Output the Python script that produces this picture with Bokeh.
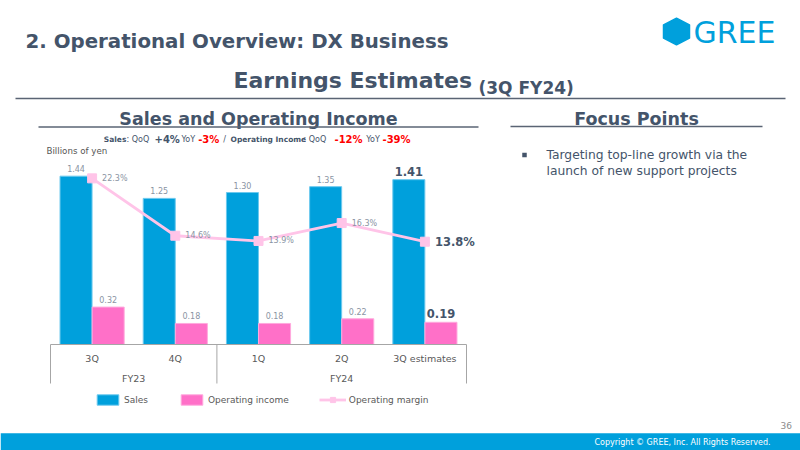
import numpy as np
from bokeh.plotting import figure
from bokeh.models import Range1d, ColumnDataSource, Legend, LegendItem
from bokeh.embed import file_html
from bokeh.resources import INLINE
from bokeh.core.properties import value

# ---------------- data ----------------
periods = ["3Q", "4Q", "1Q", "2Q", "3Q estimates"]
fiscal_years = ["FY23", "FY23", "FY24", "FY24", "FY24"]
sales = [1.44, 1.25, 1.30, 1.35, 1.41]                 # billions of yen
operating_income = [0.32, 0.18, 0.18, 0.22, 0.19]      # billions of yen
operating_margin = [22.3, 14.6, 13.9, 16.3, 13.8]      # %
estimate_flags = [False, False, False, False, True]
series_names = ["Sales", "Operating income", "Operating margin"]

# ---------------- style ----------------
W, H = 800, 450
DARK = "#44546A"
GRAY = "#8A94A3"
BLUE = "#00A0DC"
BLUE_EDGE = "#6CC9EE"
PINK = "#FF70C8"
PINK_EDGE = "#FFA9DD"
LINE_PINK = "#FFC4E8"
RED = "#FF0000"
AXIS_GRAY = "#A6A6A6"
F = value("DejaVu Sans")

# chart placement (pixels on the slide)
CL, CR = 50, 466          # plot left / right
BASE = 344                # zero line
PX_PER_UNIT = 116.9       # px per billion yen
PX_PER_PCT = 7.45         # px per margin percent
n = len(periods)
STEP = (CR - CL) / n
BAR_W = 0.385
DODGE = 0.193

p = figure(width=W, height=H, x_range=Range1d(0, W), y_range=Range1d(H, 0),
           output_backend="svg", toolbar_location=None, min_border=0,
           x_axis_location=None, y_axis_location=None, outline_line_color=None,
           background_fill_color="white", border_fill_color="white")
p.grid.visible = False
p.extra_x_ranges = {"cat": Range1d(-CL / STEP, (W - CL) / STEP)}
p.extra_y_ranges = {
    "val": Range1d(-(H - BASE) / PX_PER_UNIT, BASE / PX_PER_UNIT),
    "pct": Range1d(-(H - BASE) / PX_PER_PCT, BASE / PX_PER_PCT),
}

centers = np.arange(n) + 0.5
src = ColumnDataSource(dict(
    center=centers,
    xs=centers - DODGE,
    xo=centers + DODGE,
    sales=sales,
    oi=operating_income,
    margin=operating_margin,
    sales_lbl=[f"{v:.2f}" for v in sales],
    oi_lbl=[f"{v:.2f}" for v in operating_income],
    m_lbl=[f"{v:.1f}%" for v in operating_margin],
    period=periods,
))
act = [i for i in range(n) if not estimate_flags[i]]
est = [i for i in range(n) if estimate_flags[i]]

def sub(idx):
    d = {k: [v[i] for i in idx] for k, v in src.data.items()}
    return ColumnDataSource(d)

src_act, src_est = sub(act), sub(est)

# ---------------- bars ----------------
r_sales = p.vbar(x="xs", top="sales", bottom=0, width=BAR_W, source=src,
                 x_range_name="cat", y_range_name="val",
                 fill_color=BLUE, line_color=BLUE_EDGE, line_width=1)
r_oi = p.vbar(x="xo", top="oi", bottom=0, width=BAR_W, source=src,
              x_range_name="cat", y_range_name="val",
              fill_color=PINK, line_color=PINK_EDGE, line_width=1)

# ---------------- margin line ----------------
r_line = p.line(x="center", y="margin", source=src, x_range_name="cat",
                y_range_name="pct", line_color=LINE_PINK, line_width=2.8)
r_mark = p.scatter(x="center", y="margin", source=src, x_range_name="cat",
                   y_range_name="pct", marker="square", size=9,
                   fill_color=LINE_PINK, line_color=LINE_PINK)

# ---------------- data labels ----------------
for s, fs, col, style, off in [(src_act, "8px", GRAY, "normal", -4),
                               (src_est, "11.5px", DARK, "bold", -4)]:
    p.text(x="xs", y="sales", text="sales_lbl", source=s, x_range_name="cat",
           y_range_name="val", text_align="center", text_baseline="bottom",
           y_offset=off, text_font=F, text_font_size=fs, text_color=col,
           text_font_style=style)
    p.text(x="xo", y="oi", text="oi_lbl", source=s, x_range_name="cat",
           y_range_name="val", text_align="center", text_baseline="bottom",
           y_offset=off, text_font=F, text_font_size=fs, text_color=col,
           text_font_style=style)
    p.text(x="center", y="margin", text="m_lbl", source=s, x_range_name="cat",
           y_range_name="pct", text_align="left", text_baseline="middle",
           x_offset=10, text_font=F, text_font_size=fs, text_color=col,
           text_font_style=style)

# ---------------- category axis (table style) ----------------
AX_BOTTOM = -(383 - BASE) / PX_PER_UNIT
bounds = [0]
groups = []
for i in range(1, n + 1):
    if i == n or fiscal_years[i] != fiscal_years[i - 1]:
        groups.append((fiscal_years[i - 1], (bounds[-1] + i) / 2))
        bounds.append(i)
p.segment(x0=[0], x1=[n], y0=[0], y1=[0], x_range_name="cat", y_range_name="val",
          line_color=AXIS_GRAY, line_width=1)
p.segment(x0=bounds, x1=bounds, y0=[0] * len(bounds), y1=[AX_BOTTOM] * len(bounds),
          x_range_name="cat", y_range_name="val", line_color=AXIS_GRAY, line_width=1)
p.text(x="center", y=358, text="period", source=src, x_range_name="cat",
       text_align="center", text_baseline="middle", text_font=F,
       text_font_size="9.5px", text_color="#595959")
p.text(x=[g[1] for g in groups], y=[377.5] * len(groups), text=[g[0] for g in groups],
       x_range_name="cat", text_align="center", text_baseline="middle", text_font=F,
       text_font_size="9.5px", text_color="#595959")

# ---------------- legend ----------------
legend = Legend(items=[LegendItem(label=series_names[0], renderers=[r_sales]),
                       LegendItem(label=series_names[1], renderers=[r_oi]),
                       LegendItem(label=series_names[2], renderers=[r_line, r_mark])],
                location=(94, H - 406), orientation="horizontal", spacing=30,
                glyph_width=27, glyph_height=13, label_height=13, label_standoff=3,
                padding=0, margin=0, border_line_color=None, background_fill_alpha=0,
                label_text_font="DejaVu Sans", label_text_font_size="9px",
                label_text_color="#595959", label_text_baseline="middle")
p.add_layout(legend)

# ---------------- slide decorations ----------------
def txt(x, y, t, size, color=DARK, bold=False, font=F, align="left", base="middle"):
    p.text(x=[x], y=[y], text=[t], text_font=font, text_font_size=size,
           text_color=color, text_font_style="bold" if bold else "normal",
           text_align=align, text_baseline=base)

txt(25, 41, "2. Operational Overview: DX Business", "19.8px", bold=True)
txt(233, 80, "Earnings Estimates", "22px", bold=True)
txt(478, 87, "(3Q FY24)", "17px", bold=True, base="alphabetic")
p.segment(x0=[15], x1=[785], y0=[98], y1=[98], line_color="#5A6474", line_width=1.5)

txt(258, 118, "Sales and Operating Income", "17.5px", bold=True, align="center")
p.segment(x0=[38], x1=[478], y0=[126.5], y1=[126.5], line_color="#5A6474", line_width=1.5)
txt(636, 118, "Focus Points", "17.5px", bold=True, align="center")
p.segment(x0=[510], x1=[762], y0=[126], y1=[126], line_color="#5A6474", line_width=1.5)

pieces = [("Sales", 103.3, True, "7.5px", DARK), (": QoQ", 126, False, "8px", DARK),
          ("+4%", 154, True, "10px", DARK), ("YoY", 181, False, "8px", DARK),
          ("-3%", 197.7, True, "10px", RED), ("/", 222.7, False, "8px", DARK),
          ("Operating Income", 230, True, "7.5px", DARK), (": QoQ", 303, False, "8px", DARK),
          ("-12%", 334, True, "10px", RED), ("YoY", 365.7, False, "8px", DARK),
          ("-39%", 382, True, "10px", RED)]
for t, x, b, s, c in pieces:
    txt(x, 138.5, t, s, color=c, bold=b)

txt(46, 150, "Billions of yen", "8.7px", color="#555555")

p.rect(x=[524], y=[154.5], width=[4.5], height=[4.5], fill_color=DARK, line_color=None)
txt(546, 154.5, "Targeting top-line growth via the", "12.3px", color=DARK)
txt(546, 170, "launch of new support projects", "12.3px", color=DARK)

# logo
p.patch(x=[676, 689, 689, 676, 663, 663], y=[17.7, 24.5, 37.5, 44.3, 37.5, 24.5],
        fill_color=BLUE, line_color=BLUE, line_join="round", line_width=1.5)
txt(693, 31.5, "GREE", "30px", color=BLUE, font=F)

# footer
p.quad(left=[0], right=[W], top=[432.7], bottom=[H], fill_color=BLUE, line_color=None)
txt(770, 442, "Copyright \u00a9 GREE, Inc. All Rights Reserved.", "8px", color="white",
    align="right")
txt(791.5, 425, "36", "9px", color="#8C8C8C", align="right")

open("out.html", "w").write(file_html(p, INLINE))
